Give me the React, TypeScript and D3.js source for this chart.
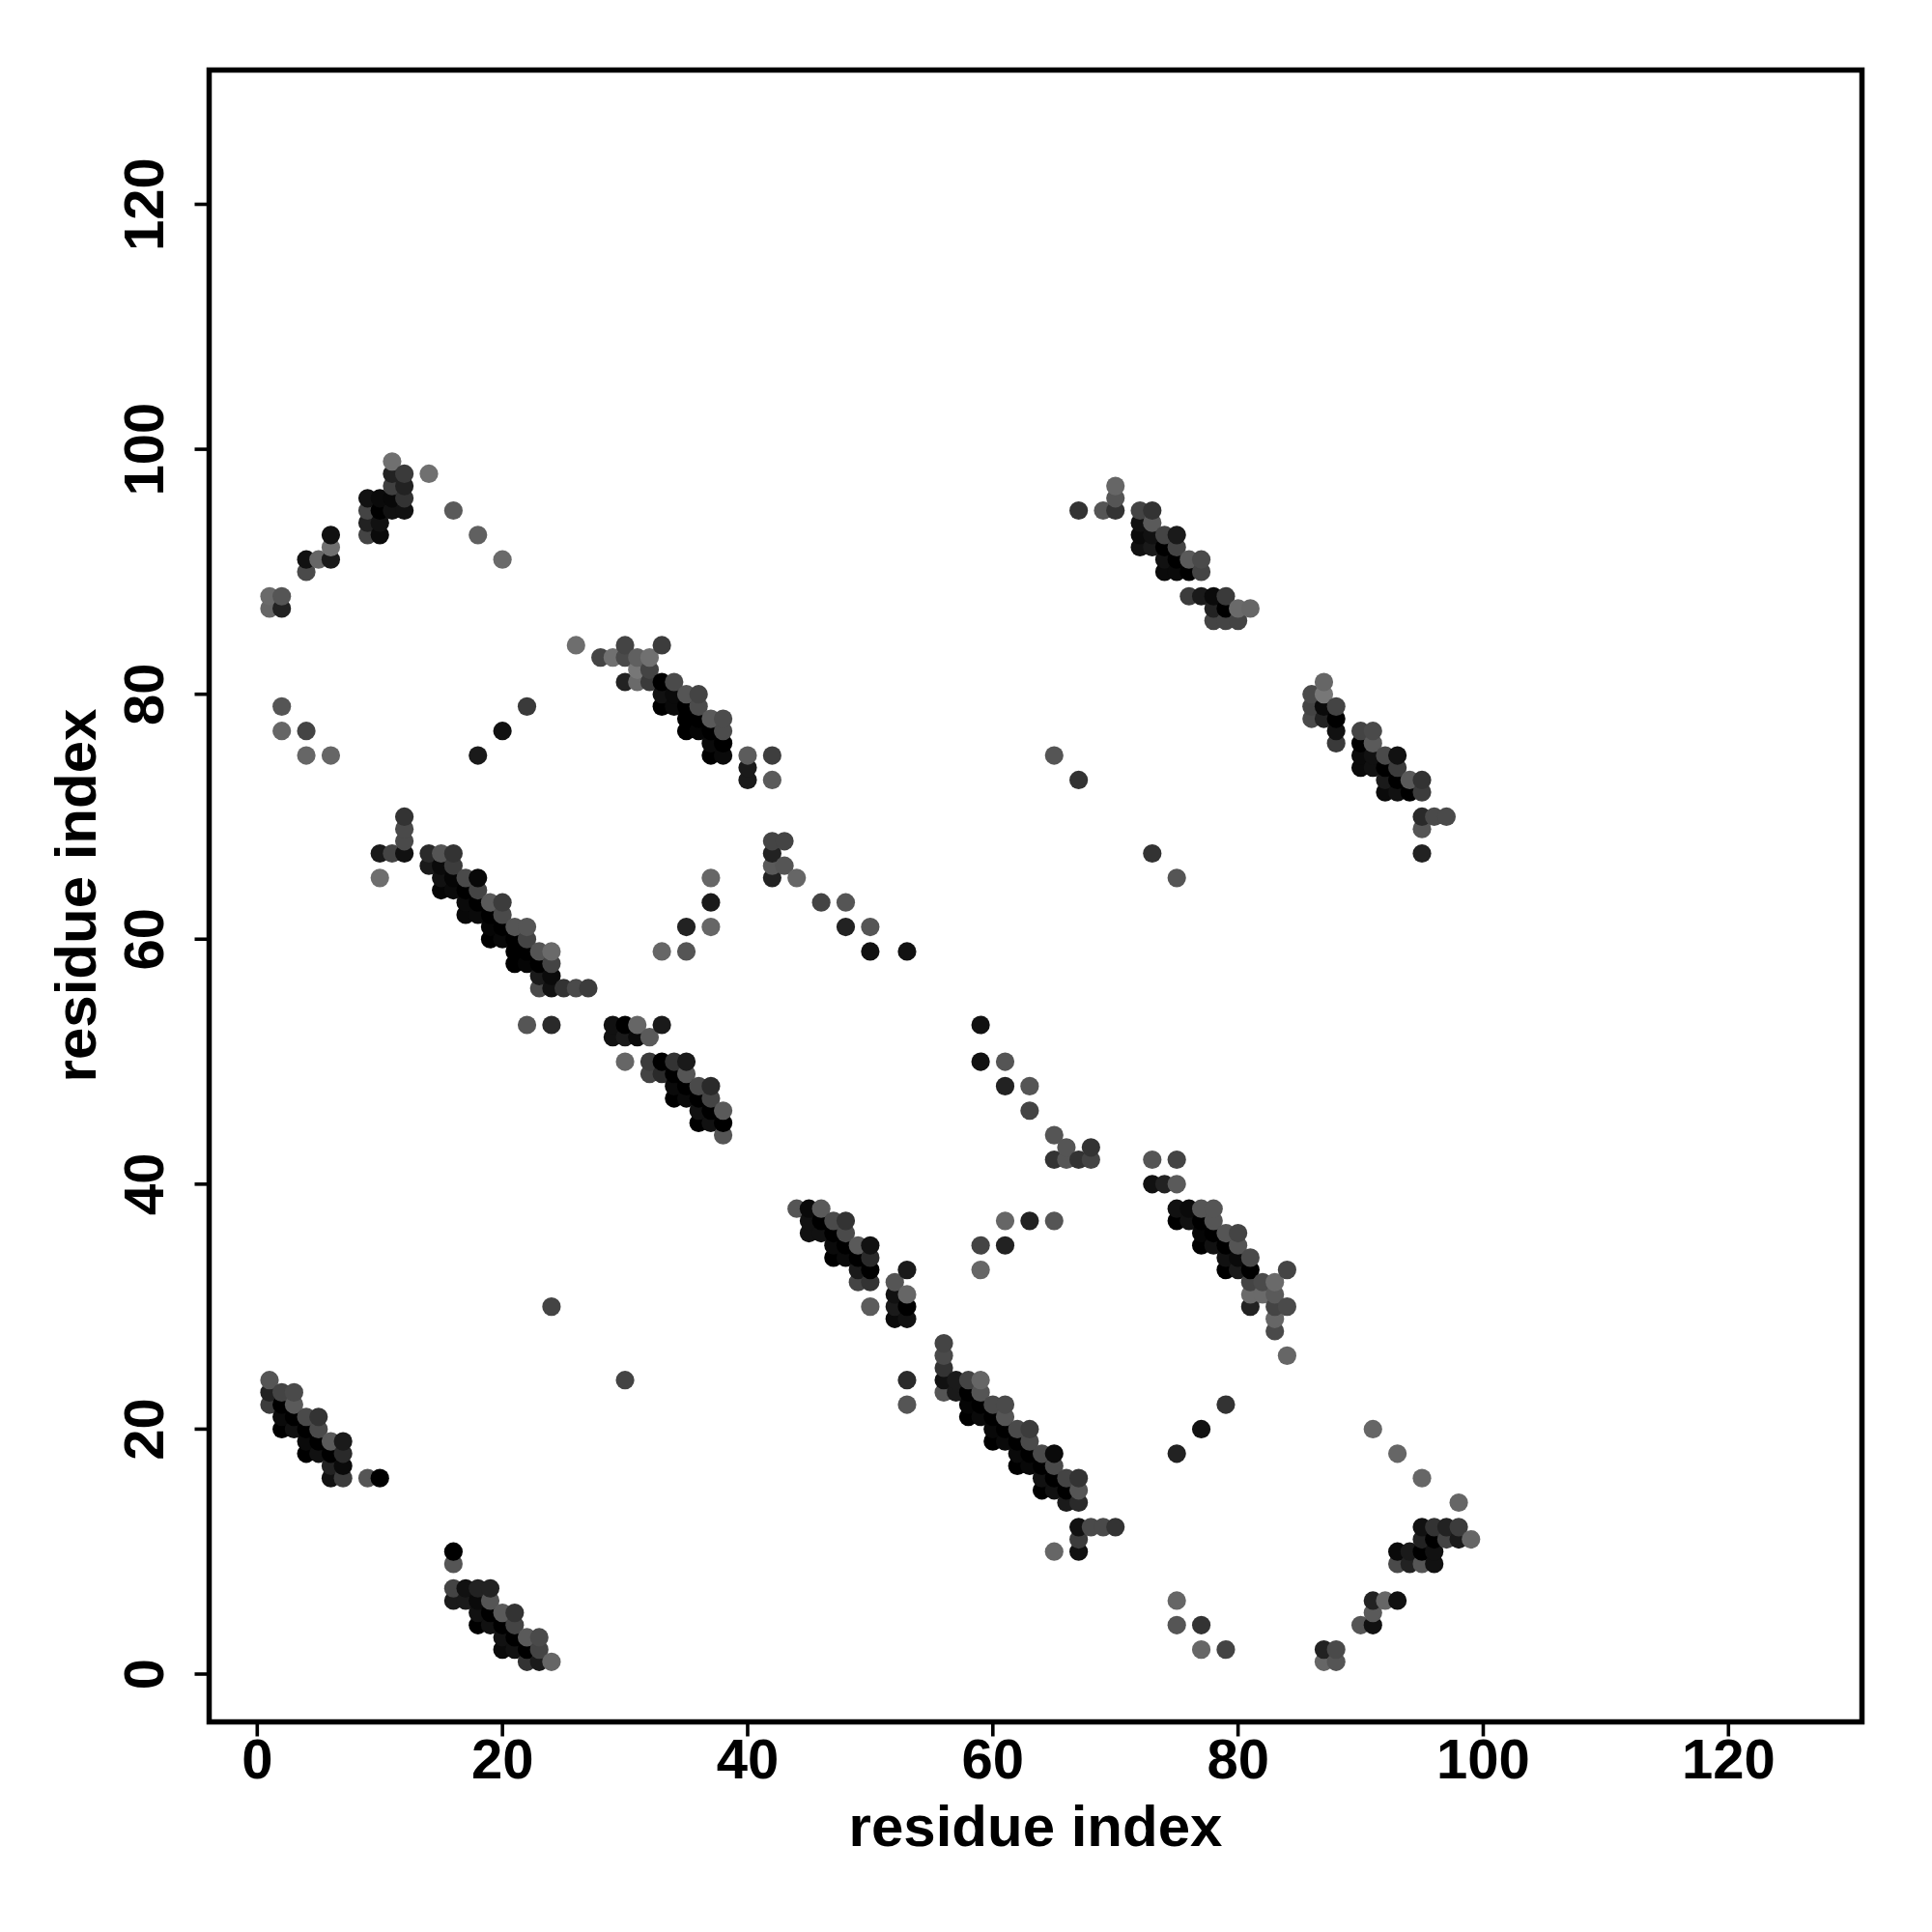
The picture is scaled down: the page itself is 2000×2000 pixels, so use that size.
import React from "react";
import * as d3 from "d3";

type P = [number, number, number];

const tickValues = [0, 20, 40, 60, 80, 100, 120];
const axisTitle = "residue index";

const clusterTopLeft: P[] = [
  [11,99,0x70],[11,98,0x22],[12,98,0x3a],[14,98,0x70],[11,97,0x40],[12,97,0x22],
  [9,96,0x11],[10,96,0x0a],[11,96,0x08],[12,96,0x33],[9,95,0x44],[10,95,0x00],[11,95,0x11],[12,95,0x11],[16,95,0x5a],
  [9,94,0x22],[10,94,0x11],[9,93,0x44],[10,93,0x0a],[6,93,0x11],[18,93,0x60],[6,92,0x70],
  [4,91,0x11],[5,91,0x66],[6,91,0x1a],[20,91,0x6a],[4,90,0x4a],
  [1,88,0x6a],[2,88,0x55],[1,87,0x66],[2,87,0x22],
  [2,79,0x55],[22,79,0x3a],[2,77,0x66],[4,77,0x44],[20,77,0x11],[4,75,0x66],[6,75,0x66],[18,75,0x1a],
];

const clusterUpperMid: P[] = [
  [26,84,0x6e],[30,84,0x44],[33,84,0x3c],[28,83,0x44],[29,83,0x70],[30,83,0x4a],[31,83,0x60],[32,83,0x70],
  [31,82,0x77],[32,82,0x44],[30,81,0x22],[31,81,0x6a],[32,81,0x3a],[33,81,0x00],[34,81,0x4a],
  [33,80,0x11],[34,80,0x0a],[35,80,0x55],[36,80,0x44],[33,79,0x00],[34,79,0x0a],[35,79,0x00],[36,79,0x4c],
  [35,78,0x00],[36,78,0x00],[37,78,0x5a],[38,78,0x4c],[35,77,0x00],[36,77,0x05],[37,77,0x00],[38,77,0x4c],
  [37,76,0x0a],[38,76,0x00],[37,75,0x00],[38,75,0x0a],[40,75,0x5c],[42,75,0x3e],[40,74,0x1a],[40,73,0x1a],[42,73,0x5a],
  [42,68,0x44],[43,68,0x44],[42,67,0x22],[42,66,0x5a],[43,66,0x55],[42,65,0x22],[44,65,0x66],[37,65,0x66],
  [37,63,0x1a],[46,63,0x44],[48,63,0x55],[37,61,0x66],[35,61,0x22],[48,61,0x22],[50,61,0x55],
  [33,59,0x66],[35,59,0x55],[50,59,0x11],[53,59,0x11],
];

const clusterMid: P[] = [
  [12,70,0x33],[12,69,0x4a],[12,68,0x4a],[10,67,0x1a],[11,67,0x44],[12,67,0x11],[10,65,0x6e],
  [14,67,0x2a],[15,67,0x55],[16,67,0x33],[14,66,0x1a],[15,66,0x0a],[16,66,0x3c],
  [15,65,0x11],[16,65,0x05],[17,65,0x4a],[18,65,0x08],[15,64,0x05],[16,64,0x0a],[17,64,0x00],[18,64,0x44],
  [17,63,0x0a],[18,63,0x00],[19,63,0x5a],[20,63,0x3c],[17,62,0x08],[18,62,0x0a],[19,62,0x00],[20,62,0x4a],
  [19,61,0x05],[20,61,0x00],[21,61,0x55],[22,61,0x55],[19,60,0x00],[20,60,0x08],[21,60,0x00],[22,60,0x44],
  [21,59,0x00],[22,59,0x00],[23,59,0x55],[24,59,0x6a],[21,58,0x00],[22,58,0x05],[23,58,0x00],[24,58,0x44],
  [23,57,0x1a],[24,57,0x0a],[23,56,0x4a],[24,56,0x11],[25,56,0x33],[26,56,0x4a],[27,56,0x3c],
  [22,53,0x55],[24,53,0x2a],
];

const clusterCentre: P[] = [
  [29,53,0x11],[30,53,0x00],[31,53,0x66],[33,53,0x1a],[29,52,0x11],[30,52,0x1a],[31,52,0x0a],[32,52,0x5a],
  [30,50,0x66],[32,50,0x3c],[33,50,0x00],[34,50,0x33],[35,50,0x1a],[32,49,0x44],[33,49,0x2a],[34,49,0x00],[35,49,0x55],
  [34,48,0x0a],[35,48,0x00],[36,48,0x4a],[37,48,0x2a],[34,47,0x00],[35,47,0x0a],[36,47,0x00],[37,47,0x44],
  [36,46,0x11],[37,46,0x00],[38,46,0x5a],[36,45,0x00],[37,45,0x11],[38,45,0x00],[38,44,0x55],
];

const clusterLowerMid: P[] = [
  [44,38,0x55],[45,38,0x0a],[46,38,0x5a],[45,37,0x11],[46,37,0x00],[47,37,0x4a],[48,37,0x33],
  [45,36,0x11],[46,36,0x11],[47,36,0x00],[48,36,0x4a],[47,35,0x0a],[48,35,0x00],[49,35,0x5a],[50,35,0x11],
  [47,34,0x00],[48,34,0x0a],[49,34,0x00],[50,34,0x2a],[49,33,0x1a],[50,33,0x00],[49,32,0x44],[50,32,0x33],[50,30,0x5c],
  [53,33,0x1a],[52,32,0x55],[52,31,0x11],[53,31,0x66],[52,30,0x1a],[53,30,0x00],[52,29,0x0a],[53,29,0x11],
  [24,30,0x44],[30,24,0x44],
];

const clusterDiagonal: P[] = [
  [53,24,0x2a],[53,22,0x55],[56,27,0x44],[56,26,0x4a],[56,25,0x33],[56,24,0x11],[57,24,0x1a],[58,24,0x44],[59,24,0x66],
  [56,23,0x55],[57,23,0x1a],[58,23,0x00],[59,23,0x55],[58,22,0x05],[59,22,0x00],[60,22,0x4a],[61,22,0x4a],
  [58,21,0x00],[59,21,0x0a],[60,21,0x00],[61,21,0x55],[60,20,0x08],[61,20,0x00],[62,20,0x4a],[63,20,0x3c],
  [60,19,0x00],[61,19,0x0a],[62,19,0x00],[63,19,0x4a],[62,18,0x0a],[63,18,0x00],[64,18,0x4a],[65,18,0x0a],
  [62,17,0x00],[63,17,0x08],[64,17,0x00],[65,17,0x4a],[64,16,0x11],[65,16,0x00],[66,16,0x44],[67,16,0x33],
  [64,15,0x00],[65,15,0x11],[66,15,0x00],[67,15,0x55],[66,14,0x1a],[67,14,0x2a],
  [67,12,0x11],[68,12,0x4a],[69,12,0x4a],[70,12,0x33],[67,11,0x3c],[65,10,0x66],[67,10,0x11],
];

const clusterScattered: P[] = [
  [59,53,0x11],[59,50,0x11],[61,50,0x55],[61,48,0x22],[63,48,0x55],[63,46,0x44],[65,44,0x55],[66,43,0x55],
  [65,42,0x33],[66,42,0x55],[67,42,0x33],[68,43,0x33],[68,42,0x44],
  [59,35,0x44],[59,33,0x66],[61,37,0x66],[61,35,0x22],[63,37,0x22],[65,37,0x55],
  [75,18,0x22],[77,20,0x11],[79,22,0x33],[91,20,0x66],[93,18,0x66],[95,16,0x66],
  [75,6,0x66],[75,4,0x55],[77,4,0x33],[77,2,0x66],[79,2,0x44],
  [65,75,0x55],[67,73,0x33],[73,67,0x33],[75,65,0x55],[95,67,0x22],
];

const clusterTopRight: P[] = [
  [67,95,0x33],[69,95,0x55],[70,95,0x33],[70,96,0x55],[70,97,0x66],
  [72,95,0x44],[73,95,0x33],[72,94,0x11],[73,94,0x5a],[72,93,0x0a],[73,93,0x11],[74,93,0x44],[75,93,0x1a],
  [72,92,0x11],[73,92,0x1a],[74,92,0x00],[75,92,0x44],[74,91,0x11],[75,91,0x00],[76,91,0x5a],[77,91,0x4a],
  [74,90,0x0a],[75,90,0x0a],[76,90,0x00],[77,90,0x44],[76,88,0x3c],[77,88,0x1a],[78,88,0x0a],[79,88,0x3a],
  [78,87,0x22],[79,87,0x00],[80,87,0x6a],[81,87,0x66],[78,86,0x44],[79,86,0x44],[80,86,0x44],
];

const clusterRight: P[] = [
  [87,81,0x66],[86,80,0x4a],[87,80,0x77],[86,79,0x44],[87,79,0x0a],[88,79,0x44],[86,78,0x4a],[87,78,0x22],[88,78,0x00],
  [88,77,0x11],[88,76,0x3a],[90,77,0x44],[91,77,0x4a],[90,76,0x00],[91,76,0x5a],
  [90,75,0x0a],[91,75,0x11],[92,75,0x4a],[93,75,0x11],[90,74,0x0a],[91,74,0x11],[92,74,0x00],[93,74,0x3c],
  [92,73,0x1a],[93,73,0x00],[94,73,0x5a],[95,73,0x33],[92,72,0x0a],[93,72,0x11],[94,72,0x00],[95,72,0x3c],
  [95,70,0x2a],[96,70,0x4a],[97,70,0x4a],[95,69,0x55],
];

const clusterLowerRight: P[] = [
  [73,42,0x55],[75,42,0x44],[73,40,0x11],[74,40,0x22],[75,40,0x5a],
  [75,38,0x11],[76,38,0x0a],[77,38,0x55],[78,38,0x55],[75,37,0x00],[76,37,0x11],[77,37,0x00],[78,37,0x55],
  [77,36,0x05],[78,36,0x00],[79,36,0x55],[80,36,0x44],[77,35,0x00],[78,35,0x11],[79,35,0x00],[80,35,0x55],
  [79,34,0x11],[80,34,0x0a],[81,34,0x4a],[79,33,0x00],[80,33,0x1a],[81,33,0x00],[84,33,0x44],
  [81,32,0x44],[82,32,0x4a],[83,32,0x6a],[81,31,0x6a],[82,31,0x6a],[83,31,0x5a],
  [81,30,0x22],[83,30,0x44],[84,30,0x4a],[83,29,0x66],[83,28,0x4a],[84,26,0x66],
];

const clusterBottomLeft: P[] = [
  [1,24,0x55],[1,23,0x22],[2,23,0x44],[3,23,0x4a],[1,22,0x3c],[2,22,0x00],[3,22,0x5a],
  [2,21,0x0a],[3,21,0x00],[4,21,0x4a],[5,21,0x33],[2,20,0x00],[3,20,0x11],[4,20,0x00],[5,20,0x4a],
  [4,19,0x0a],[5,19,0x00],[6,19,0x5a],[7,19,0x1a],[4,18,0x00],[5,18,0x11],[6,18,0x00],[7,18,0x2a],
  [6,17,0x22],[7,17,0x0a],[6,16,0x11],[7,16,0x3c],[9,16,0x55],[10,16,0x00],
];

const clusterBottomMid: P[] = [
  [16,10,0x00],[16,9,0x55],[16,7,0x44],[17,7,0x11],[18,7,0x22],[19,7,0x22],[16,6,0x1a],[17,6,0x1a],[18,6,0x0a],[19,6,0x55],
  [18,5,0x11],[19,5,0x00],[20,5,0x5a],[21,5,0x33],[18,4,0x00],[19,4,0x11],[20,4,0x00],[21,4,0x44],
  [20,3,0x11],[21,3,0x00],[22,3,0x5a],[23,3,0x4a],[20,2,0x0a],[21,2,0x11],[22,2,0x00],[23,2,0x44],
  [22,1,0x33],[23,1,0x1a],[24,1,0x66],
];

const clusterBottomRight: P[] = [
  [98,14,0x66],[95,12,0x11],[96,12,0x33],[97,12,0x22],[98,12,0x3c],[95,11,0x22],[96,11,0x00],[97,11,0x44],[98,11,0x1a],[99,11,0x66],
  [93,10,0x0a],[94,10,0x1a],[95,10,0x00],[96,10,0x11],[93,9,0x4a],[94,9,0x22],[95,9,0x55],[96,9,0x11],
  [91,6,0x22],[92,6,0x66],[93,6,0x11],[91,5,0x5a],[90,4,0x55],[91,4,0x11],
  [87,2,0x22],[88,2,0x4a],[87,1,0x66],[88,1,0x55],
];

const points: P[] = [
  ...clusterTopLeft, ...clusterUpperMid, ...clusterMid, ...clusterCentre, ...clusterLowerMid,
  ...clusterDiagonal, ...clusterScattered, ...clusterTopRight, ...clusterRight, ...clusterLowerRight,
  ...clusterBottomLeft, ...clusterBottomMid, ...clusterBottomRight,
].sort((a, b) => a[0] - b[0] || a[1] - b[1]);

const x = d3.scaleLinear().domain([0, 120]).range([266.3, 1789.3]);
const y = d3.scaleLinear().domain([0, 120]).range([1733, 211.5]);

const FONT = "'Liberation Sans', Arial, sans-serif";
const frame = { left: 216.5, right: 1927.5, top: 72.5, bottom: 1782.5 };

export default function App() {
  return (
    <svg width={2000} height={2000} style={{ position: "absolute", left: 0, top: 0, background: "#fff" }}>
      <rect x={frame.left} y={frame.top} width={frame.right - frame.left} height={frame.bottom - frame.top}
        fill="none" stroke="#000" strokeWidth={5.5} />
      {points.map(([px, py, g], i) => (
        <circle key={i} cx={x(px)} cy={y(py)} r={9.6} fill={d3.rgb(g, g, g).formatHex()} />
      ))}
      {tickValues.map((t) => (
        <g key={`x${t}`}>
          <line x1={x(t)} x2={x(t)} y1={frame.bottom} y2={frame.bottom + 15} stroke="#000" strokeWidth={3.6} />
          <text x={x(t)} y={1841} textAnchor="middle" fontFamily={FONT} fontWeight="bold" fontSize={58}>{t}</text>
        </g>
      ))}
      {tickValues.map((t) => (
        <g key={`y${t}`}>
          <line x1={frame.left} x2={frame.left - 15} y1={y(t)} y2={y(t)} stroke="#000" strokeWidth={3.6} />
          <text transform={`translate(169,${y(t)}) rotate(-90)`} textAnchor="middle" fontFamily={FONT} fontWeight="bold" fontSize={58}>{t}</text>
        </g>
      ))}
      <text x={1072} y={1911} textAnchor="middle" fontFamily={FONT} fontWeight="bold" fontSize={60}>{axisTitle}</text>
      <text transform="translate(99,927) rotate(-90)" textAnchor="middle" fontFamily={FONT} fontWeight="bold" fontSize={60}>{axisTitle}</text>
    </svg>
  );
}
